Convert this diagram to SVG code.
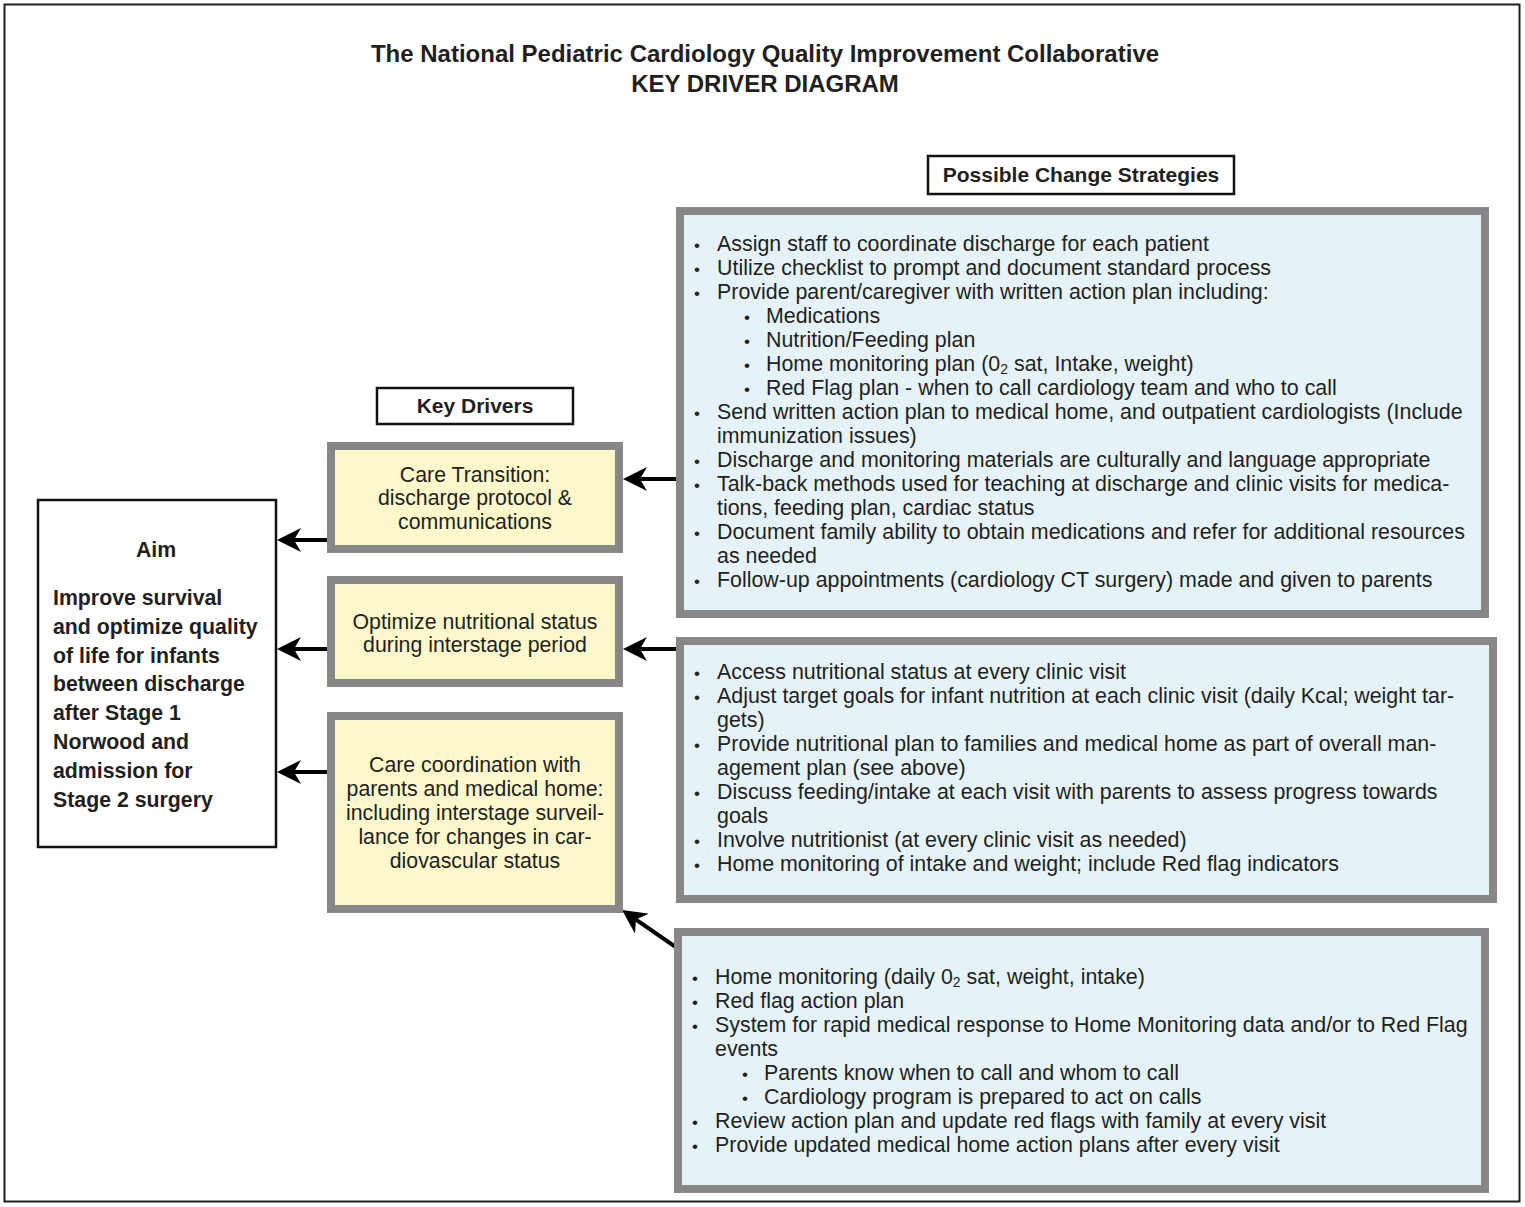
<svg xmlns="http://www.w3.org/2000/svg" width="1525" height="1207" viewBox="0 0 1525 1207">
<defs>
<style>
text{font-family:"Liberation Sans",Arial,sans-serif;fill:#231f20}
.t{font-size:24px;font-weight:bold;text-anchor:middle}
.hdr{font-size:21px;font-weight:bold;text-anchor:middle}
.lbl{fill:#fff;stroke:#111;stroke-width:2.5}
.strat{fill:#e5f3f8;stroke:#878787;stroke-width:8}
.drv{fill:#fdf8cb;stroke:#878787;stroke-width:8}
.dt{font-size:21.3px;text-anchor:middle}
.st{font-size:21.4px}
.b{font-size:17px}
.aim{font-size:21.3px;font-weight:bold}
.conn line{stroke:#000;stroke-width:4}
</style>
<marker id="ah" viewBox="0 0 24 24" refX="7" refY="12" markerWidth="24" markerHeight="24" markerUnits="userSpaceOnUse" orient="auto">
<path d="M24,12 L0,0 L7,12 L0,24 Z" fill="#000"/>
</marker>
</defs>
<rect width="1525" height="1207" fill="#fff"/>
<rect x="4.5" y="4.5" width="1515" height="1197" fill="none" stroke="#231f20" stroke-width="2"/>
<g id="title">
<text class="t" x="765" y="62">The National Pediatric Cardiology Quality Improvement Collaborative</text>
<text class="t" x="765" y="92">KEY DRIVER DIAGRAM</text>
</g>
<g id="connectors" class="conn">
<line x1="333" y1="540" x2="294" y2="540" marker-end="url(#ah)"/>
<line x1="333" y1="649" x2="294" y2="649" marker-end="url(#ah)"/>
<line x1="333" y1="772" x2="294" y2="772" marker-end="url(#ah)"/>
<line x1="682" y1="479" x2="640" y2="479" marker-end="url(#ah)"/>
<line x1="682" y1="649" x2="640" y2="649" marker-end="url(#ah)"/>
<line x1="680" y1="950" x2="636" y2="919.6" marker-end="url(#ah)"/>
</g>
<g id="label-strategies">
<rect class="lbl" x="928" y="156" width="306" height="38"/>
<text class="hdr" x="1081" y="182">Possible Change Strategies</text>
</g>
<g id="label-drivers">
<rect class="lbl" x="377" y="388" width="196" height="36"/>
<text class="hdr" x="475" y="413">Key Drivers</text>
</g>
<g id="aim">
<rect x="38" y="500" width="238" height="347" fill="#fff" stroke="#111" stroke-width="2.5"/>
<text class="aim" x="156" y="557" text-anchor="middle">Aim</text>
<text class="aim" x="53" y="605">Improve survival</text>
<text class="aim" x="53" y="634">and optimize quality</text>
<text class="aim" x="53" y="663">of life for infants</text>
<text class="aim" x="53" y="691">between discharge</text>
<text class="aim" x="53" y="720">after Stage 1</text>
<text class="aim" x="53" y="749">Norwood and</text>
<text class="aim" x="53" y="778">admission for</text>
<text class="aim" x="53" y="807">Stage 2 surgery</text>
</g>
<g id="driver1">
<rect class="drv" x="331" y="446" width="288" height="103"/>
<text class="dt" x="475" y="482">Care Transition:</text>
<text class="dt" x="475" y="505">discharge protocol &amp;</text>
<text class="dt" x="475" y="529">communications</text>
</g>
<g id="driver2">
<rect class="drv" x="331" y="580" width="288" height="103"/>
<text class="dt" x="475" y="629">Optimize nutritional status</text>
<text class="dt" x="475" y="652">during interstage period</text>
</g>
<g id="driver3">
<rect class="drv" x="331" y="716" width="288" height="193"/>
<text class="dt" x="475" y="772">Care coordination with</text>
<text class="dt" x="475" y="796">parents and medical home:</text>
<text class="dt" x="475" y="820">including interstage surveil-</text>
<text class="dt" x="475" y="844">lance for changes in car-</text>
<text class="dt" x="475" y="868">diovascular status</text>
</g>
<g id="strategies1">
<rect class="strat" x="680" y="211" width="805" height="403"/>
<text class="st b" x="694" y="251">•</text><text class="st" x="717" y="251">Assign staff to coordinate discharge for each patient</text>
<text class="st b" x="694" y="275">•</text><text class="st" x="717" y="275">Utilize checklist to prompt and document standard process</text>
<text class="st b" x="694" y="299">•</text><text class="st" x="717" y="299">Provide parent/caregiver with written action plan including:</text>
<text class="st b" x="744" y="323">•</text><text class="st" x="766" y="323">Medications</text>
<text class="st b" x="744" y="347">•</text><text class="st" x="766" y="347">Nutrition/Feeding plan</text>
<text class="st b" x="744" y="371">•</text><text class="st" x="766" y="371">Home monitoring plan (0<tspan font-size="14" dy="3">2</tspan><tspan dy="-3"> sat, Intake, weight)</tspan></text>
<text class="st b" x="744" y="395">•</text><text class="st" x="766" y="395">Red Flag plan - when to call cardiology team and who to call</text>
<text class="st b" x="694" y="419">•</text><text class="st" x="717" y="419">Send written action plan to medical home, and outpatient cardiologists (Include</text>
<text class="st" x="717" y="443">immunization issues)</text>
<text class="st b" x="694" y="467">•</text><text class="st" x="717" y="467">Discharge and monitoring materials are culturally and language appropriate</text>
<text class="st b" x="694" y="491">•</text><text class="st" x="717" y="491">Talk-back methods used for teaching at discharge and clinic visits for medica-</text>
<text class="st" x="717" y="515">tions, feeding plan, cardiac status</text>
<text class="st b" x="694" y="539">•</text><text class="st" x="717" y="539">Document family ability to obtain medications and refer for additional resources</text>
<text class="st" x="717" y="563">as needed</text>
<text class="st b" x="694" y="587">•</text><text class="st" x="717" y="587">Follow-up appointments (cardiology CT surgery) made and given to parents</text>
</g>
<g id="strategies2">
<rect class="strat" x="680" y="641" width="813" height="258"/>
<text class="st b" x="694" y="679">•</text><text class="st" x="717" y="679">Access nutritional status at every clinic visit</text>
<text class="st b" x="694" y="703">•</text><text class="st" x="717" y="703">Adjust target goals for infant nutrition at each clinic visit (daily Kcal; weight tar-</text>
<text class="st" x="717" y="727">gets)</text>
<text class="st b" x="694" y="751">•</text><text class="st" x="717" y="751">Provide nutritional plan to families and medical home as part of overall man-</text>
<text class="st" x="717" y="775">agement plan (see above)</text>
<text class="st b" x="694" y="799">•</text><text class="st" x="717" y="799">Discuss feeding/intake at each visit with parents to assess progress towards</text>
<text class="st" x="717" y="823">goals</text>
<text class="st b" x="694" y="847">•</text><text class="st" x="717" y="847">Involve nutritionist (at every clinic visit as needed)</text>
<text class="st b" x="694" y="871">•</text><text class="st" x="717" y="871">Home monitoring of intake and weight; include Red flag indicators</text>
</g>
<g id="strategies3">
<rect class="strat" x="678" y="932" width="807" height="257"/>
<text class="st b" x="692" y="984">•</text><text class="st" x="715" y="984">Home monitoring (daily 0<tspan font-size="14" dy="3">2</tspan><tspan dy="-3"> sat, weight, intake)</tspan></text>
<text class="st b" x="692" y="1008">•</text><text class="st" x="715" y="1008">Red flag action plan</text>
<text class="st b" x="692" y="1032">•</text><text class="st" x="715" y="1032">System for rapid medical response to Home Monitoring data and/or to Red Flag</text>
<text class="st" x="715" y="1056">events</text>
<text class="st b" x="742" y="1080">•</text><text class="st" x="764" y="1080">Parents know when to call and whom to call</text>
<text class="st b" x="742" y="1104">•</text><text class="st" x="764" y="1104">Cardiology program is prepared to act on calls</text>
<text class="st b" x="692" y="1128">•</text><text class="st" x="715" y="1128">Review action plan and update red flags with family at every visit</text>
<text class="st b" x="692" y="1152">•</text><text class="st" x="715" y="1152">Provide updated medical home action plans after every visit</text>
</g>
</svg>
